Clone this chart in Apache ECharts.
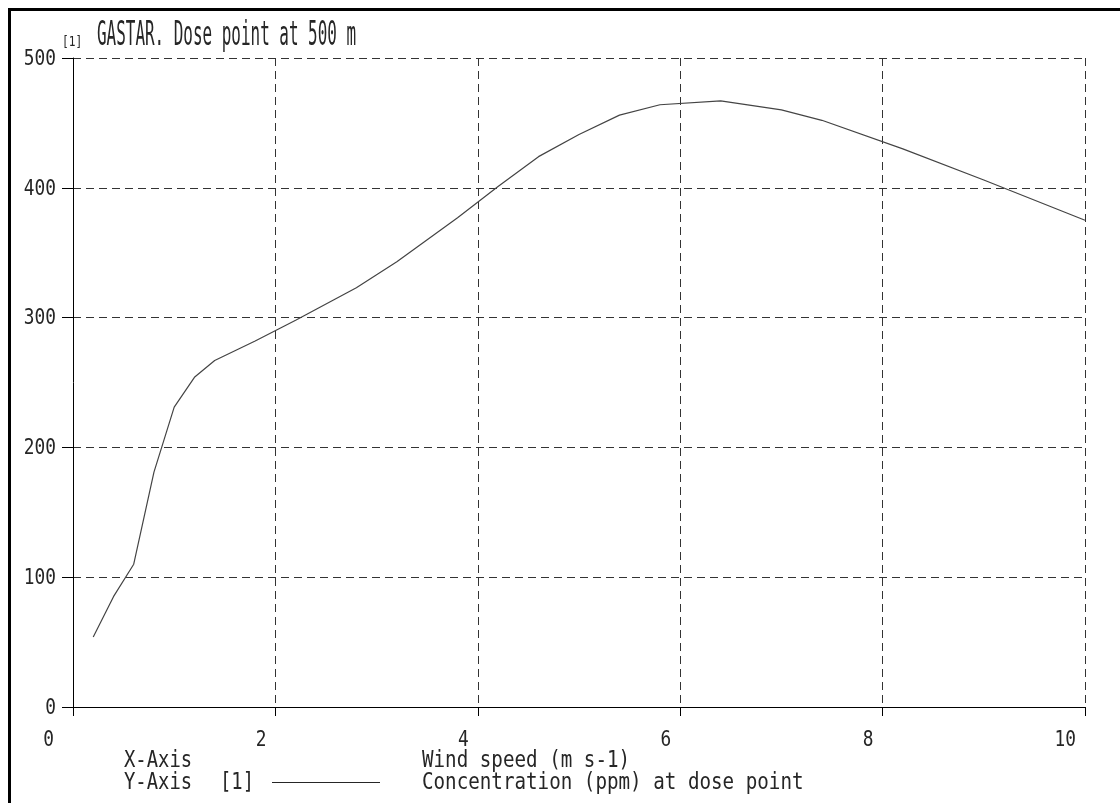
<!DOCTYPE html>
<html>
<head>
<meta charset="utf-8">
<title>GASTAR. Dose point at 500 m</title>
<script src="https://cdn.jsdelivr.net/npm/echarts@6/dist/echarts.min.js"></script>
<style>
  html, body { margin: 0; padding: 0; background: #ffffff; }
  #chart { width: 1120px; height: 803px; }
</style>
</head>
<body>
<div id="chart"></div>
<script>
// Wind speed (m s-1) against concentration (ppm) at the dose point
const windSpeed = [0.2, 0.4, 0.6, 0.8, 1.0, 1.2, 1.4, 1.8, 2.2, 2.8, 3.2, 3.8,
                   4.2, 4.6, 5.0, 5.4, 5.8, 6.4, 7.0, 7.4, 8.2, 9.0, 10.0];
const concentration = [54, 85, 110, 181, 231, 254, 267, 282, 298, 323, 343, 377,
                       401, 424, 441, 456, 464, 467, 460, 452, 430, 406, 375];

// Axis ranges, tick spacing and tick labels
const xTicks = { min: 0, max: 10, interval: 2 };
const yTicks = { min: 0, max: 500, interval: 100 };
const xTickLabels = ['0', '2', '4', '6', '8', '10'];
const yTickLabels = ['0', '100', '200', '300', '400', '500'];

// Texts
const titleTag = '[1]';
const titleText = 'GASTAR. Dose point at 500 m';
const legendRows = [
  { axis: 'X-Axis', tag: '', text: 'Wind speed (m s-1)', line: false },
  { axis: 'Y-Axis', tag: '[1]', text: 'Concentration (ppm) at dose point', line: true }
];

const INK = '#262626';
const monoFont = "'DejaVu Sans Mono', 'Liberation Mono', monospace";

const chart = echarts.init(document.getElementById('chart'), null, { renderer: 'canvas' });

// Narrow plotter-style lettering: a monospace face squeezed horizontally
function monoText(str, x, midY, size, sx, align) {
  return {
    type: 'text',
    x: x, y: midY,
    scaleX: sx, scaleY: 1,
    originX: 0, originY: 0,
    silent: true,
    style: {
      text: str,
      font: 'normal ' + size + 'px ' + monoFont,
      fill: INK,
      textAlign: align || 'left',
      textVerticalAlign: 'middle'
    }
  };
}

const option = {
  backgroundColor: '#ffffff',
  animation: false,
  grid: { left: 73, right: 35, top: 58, bottom: 96, containLabel: false },
  xAxis: {
    type: 'value',
    min: xTicks.min, max: xTicks.max, interval: xTicks.interval,
    axisLine: { show: true, onZero: false, lineStyle: { color: '#000', width: 1 } },
    axisTick: { show: true, inside: false, length: 9, lineStyle: { color: '#000', width: 1 } },
    axisLabel: { show: false },
    splitLine: { show: true, lineStyle: { color: '#333', width: 1, type: [8, 5] } }
  },
  yAxis: {
    type: 'value',
    min: yTicks.min, max: yTicks.max, interval: yTicks.interval,
    axisLine: { show: true, onZero: false, lineStyle: { color: '#000', width: 1 } },
    axisTick: { show: true, inside: false, length: 11, lineStyle: { color: '#000', width: 1 } },
    axisLabel: { show: false },
    splitLine: { show: true, lineStyle: { color: '#333', width: 1, type: [8, 5] } }
  },
  series: [{
    type: 'line',
    data: windSpeed.map(function (x, i) { return [x, concentration[i]]; }),
    showSymbol: false,
    smooth: false,
    lineStyle: { color: '#444', width: 1.2 },
    z: 3
  }]
};

chart.setOption(option);

const graphics = [
  // outer frame
  {
    type: 'rect', silent: true,
    shape: { x: 9.5, y: 9.5, width: 1300, height: 1000 },
    style: { fill: 'none', stroke: '#000', lineWidth: 3 }
  },
  monoText(titleTag, 62, 42, 14, 0.8),
  monoText(titleText, 97, 36, 33, 0.483)
];

// Tick labels placed through the axes' own scales
xTickLabels.forEach(function (lab) {
  const v = Number(lab);
  const px = chart.convertToPixel({ xAxisIndex: 0 }, v);
  const shift = v === 0 ? 19 : 9;
  graphics.push(monoText(lab, px - shift, 740, 22, 0.81, 'right'));
});
yTickLabels.forEach(function (lab) {
  const v = Number(lab);
  const py = chart.convertToPixel({ yAxisIndex: 0 }, v);
  graphics.push(monoText(lab, 56, py + 1, 22, 0.81, 'right'));
});

legendRows.forEach(function (row, i) {
  const cy = 761 + i * 22;
  graphics.push(monoText(row.axis, 124, cy, 23, 0.82));
  if (row.tag) graphics.push(monoText(row.tag, 220, cy, 23, 0.82));
  if (row.line) {
    graphics.push({
      type: 'line', silent: true,
      shape: { x1: 272, y1: cy - 0.5, x2: 380, y2: cy - 0.5 },
      style: { stroke: INK, lineWidth: 1 }
    });
  }
  graphics.push(monoText(row.text, 422, cy, 23, 0.835));
});

chart.setOption({ graphic: graphics });
</script>
</body>
</html>
